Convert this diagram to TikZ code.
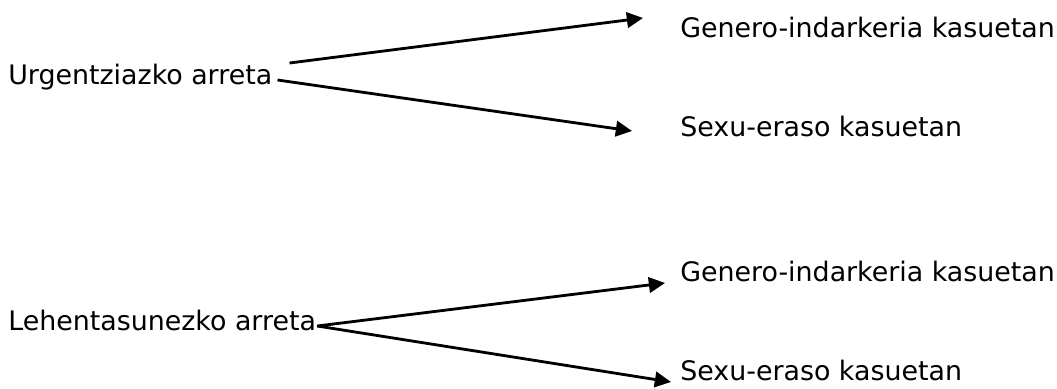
\documentclass[tikz,border=0pt]{standalone}
\usepackage{fontspec}
\setmainfont{DejaVu Sans}
\usetikzlibrary{arrows.meta,calc,positioning}

\begin{document}
\begin{tikzpicture}[
  lbl/.style={inner sep=0pt,anchor=base west,font=\fontsize{19.1}{23}\selectfont},
  arr/.style={line width=2pt,-{Triangle[length=11.5pt,width=11pt]}}]
\useasboundingbox (0,0) rectangle (26.425,-9.7);
% urgentziazko arreta
\node[lbl] (urg) at (0.2,-2.1) {Urgentziazko arreta};
\node[lbl] (gen1) at (17,-0.925) {Genero-indarkeria kasuetan};
\node[lbl] (sex1) at (17,-3.4) {Sexu-eraso kasuetan};
\draw[arr] ($(urg.base east)+(0.425,0.525)$) -- ($(gen1.base west)+(-0.925,0.475)$);
\draw[arr] ($(urg.base east)+(0.125,0.1)$) -- ($(sex1.base west)+(-1.2,0.125)$);
% lehentasunezko arreta
\node[lbl] (leh) at (0.2,-8.25) {Lehentasunezko arreta};
\node[lbl] (gen2) at (17,-7.025) {Genero-indarkeria kasuetan};
\node[lbl] (sex2) at (17,-9.5) {Sexu-eraso kasuetan};
\coordinate (lehout) at ($(leh.base east)+(0.025,0.1)$);
\draw[arr] (lehout) -- ($(gen2.base west)+(-0.375,-0.05)$);
\draw[arr] (lehout) -- ($(sex2.base west)+(-0.225,-0.05)$);
\end{tikzpicture}
\end{document}
